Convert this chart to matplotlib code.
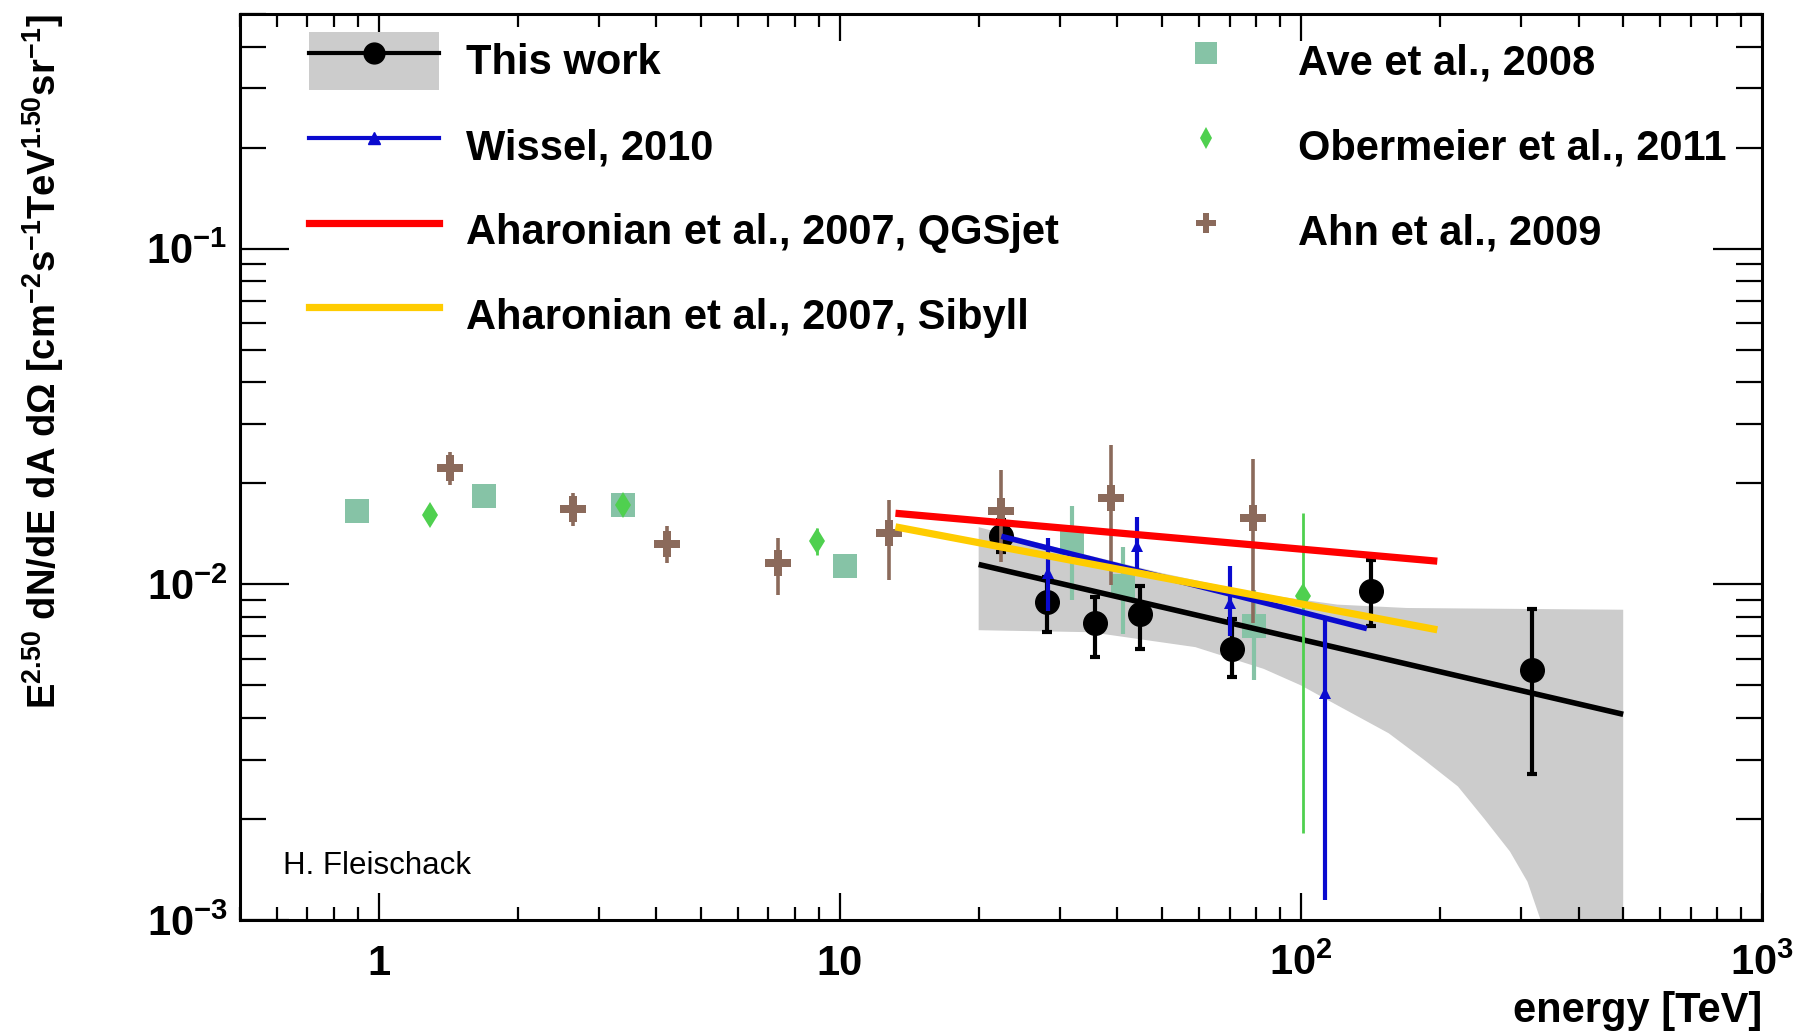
import numpy as np
import matplotlib
matplotlib.use('Agg')
import matplotlib.pyplot as plt
from matplotlib.lines import Line2D
from matplotlib.patches import Patch
from matplotlib.legend_handler import HandlerTuple
from matplotlib.ticker import FixedLocator, FixedFormatter, LogLocator, NullFormatter

plt.rcParams['font.family'] = ['Liberation Sans', 'DejaVu Sans']
plt.rcParams['font.weight'] = 'bold'
plt.rcParams['mathtext.default'] = 'regular'

# === This work (points, fit, band) ===
tw_e = [22.4, 28.2, 35.8, 44.8, 70.7, 141.9, 317.6]
tw_flux = [0.0139, 0.00883, 0.00767, 0.00817, 0.00641, 0.00956, 0.00556]
tw_up = [0.0155, 0.0105, 0.00918, 0.00986, 0.00786, 0.0118, 0.00843]
tw_lo = [0.0125, 0.00721, 0.00607, 0.00641, 0.00531, 0.0075, 0.00273]

fit_e = [20, 500]
fit_flux = [0.01146, 0.0041]

band_up_e = [20, 30, 50, 80, 120, 170, 500]
band_up = [0.0148, 0.0128, 0.0108, 0.0094, 0.0087, 0.0085, 0.0084]
band_lo_e = [20, 35, 59, 83, 100, 115, 155, 185, 219, 250, 284, 310, 331, 360, 500]
band_lo = [0.0073, 0.0072, 0.0065, 0.0056, 0.0050, 0.0045, 0.0036, 0.0030, 0.0025,
           0.0020, 0.0016, 0.0013, 0.0010, 0.0006, 0.0006]

# === Wissel 2010 ===
wis_e = [28.3, 44.0, 70.1, 112.7]
wis_flux = [0.0108, 0.0130, 0.0088, 0.00474]
wis_up = [0.01374, 0.0159, 0.0113, 0.00804]
wis_lo = [0.0083, 0.01104, 0.0070, 0.00115]
wis_fit_e = [22.4, 139]
wis_fit_flux = [0.0139, 0.00738]

# === Aharonian 2007 ===
aha_e = [13.2, 197.6]
aha_qgs = [0.01628, 0.01172]
aha_sib = [0.01483, 0.00732]

# === Ave 2008 ===
ave_e = [0.899, 1.688, 3.38, 10.26, 31.8, 41.1, 79.2]
ave_flux = [0.01648, 0.01828, 0.01726, 0.01135, 0.01328, 0.00986, 0.0075]
ave_up = [0.01648, 0.01828, 0.01726, 0.01135, 0.01706, 0.01288, 0.00964]
ave_lo = [0.01648, 0.01828, 0.01726, 0.01135, 0.00898, 0.0071, 0.00519]

# === Obermeier 2011 ===
obe_e = [1.29, 3.38, 8.93, 101]
obe_flux = [0.0161, 0.01726, 0.01343, 0.0092]
obe_up = [0.0161, 0.01726, 0.01471, 0.0163]
obe_lo = [0.0161, 0.01726, 0.0122, 0.00182]

# === Ahn 2009 ===
ahn_e = [1.426, 2.644, 4.21, 7.35, 12.76, 22.4, 38.8, 78.8]
ahn_flux = [0.02218, 0.01675, 0.01321, 0.01157, 0.01425, 0.01648, 0.01803, 0.01578]
ahn_up = [0.02486, 0.01876, 0.01487, 0.01372, 0.01789, 0.02193, 0.02606, 0.0237]
ahn_lo = [0.0198, 0.01487, 0.01157, 0.00931, 0.01033, 0.01162, 0.00994, 0.00767]

c_band = '#cccccc'
c_blue = '#0a0acf'
c_red = '#ff0000'
c_yel = '#ffcc00'
c_ave = '#86c3a6'
c_obe = '#4fd04f'
c_ahn = '#8b6a5b'


def yerr(flux, lo, up):
    flux = np.array(flux)
    return [flux - np.array(lo), np.array(up) - flux]


fig = plt.figure(figsize=(17.93, 10.33), dpi=100)
ax = fig.add_axes([240 / 1793, 1 - 920 / 1033, 1522 / 1793, 906 / 1033])
ax.set_xscale('log')
ax.set_yscale('log')

# band + fit
ax.fill(band_up_e + band_lo_e[::-1], band_up + band_lo[::-1], color=c_band, lw=0, zorder=1)
ax.plot(fit_e, fit_flux, color='black', lw=4, zorder=3, solid_capstyle='butt')

ax.errorbar(ave_e, ave_flux, yerr=yerr(ave_flux, ave_lo, ave_up), fmt='s', ms=17, mew=0,
            color=c_ave, elinewidth=3, capsize=3, capthick=2.5, zorder=2.5)
ax.errorbar(tw_e, tw_flux, yerr=yerr(tw_flux, tw_lo, tw_up), fmt='o', ms=17, color='black',
            elinewidth=3, capsize=3.5, capthick=3, zorder=3)
ax.errorbar(ahn_e, ahn_flux, yerr=yerr(ahn_flux, ahn_lo, ahn_up), fmt='P', ms=19, mew=0,
            color=c_ahn, elinewidth=2.6, capsize=3.5, capthick=2.6, zorder=4)
ax.errorbar(obe_e, obe_flux, yerr=yerr(obe_flux, obe_lo, obe_up), fmt='d', ms=13, mew=0,
            color=c_obe, elinewidth=2, capsize=3, capthick=2, zorder=4)
ax.errorbar(wis_e, wis_flux, yerr=yerr(wis_flux, wis_lo, wis_up), fmt='^', ms=9, mew=0,
            color=c_blue, elinewidth=3, capsize=3, capthick=3, zorder=4.2)
ax.plot(wis_fit_e, wis_fit_flux, color=c_blue, lw=4, zorder=4.3, solid_capstyle='butt')
ax.plot(aha_e, aha_qgs, color=c_red, lw=5.2, zorder=5, solid_capstyle='butt')
ax.plot(aha_e, aha_sib, color=c_yel, lw=5.2, zorder=5, solid_capstyle='butt')

ax.set_xlim(0.5, 1000)
ax.set_ylim(1e-3, 0.5)

ax.xaxis.set_major_locator(FixedLocator([1, 10, 100, 1000]))
ax.xaxis.set_major_formatter(FixedFormatter(['1', '10', '$10^{2}$', '$10^{3}$']))
ax.xaxis.set_minor_locator(LogLocator(base=10, subs=np.arange(2, 10), numticks=50))
ax.xaxis.set_minor_formatter(NullFormatter())
ax.yaxis.set_major_locator(FixedLocator([1e-3, 1e-2, 1e-1]))
ax.yaxis.set_major_formatter(FixedFormatter(['$10^{-3}$', '$10^{-2}$', '$10^{-1}$']))
ax.yaxis.set_minor_locator(LogLocator(base=10, subs=np.arange(2, 10), numticks=50))
ax.yaxis.set_minor_formatter(NullFormatter())

for sp in ax.spines.values():
    sp.set_linewidth(2.2)
ax.tick_params(which='both', direction='in', top=True, right=True, width=1.6, labelsize=30)
ax.tick_params(axis='x', which='major', length=19.5, pad=39.5)
ax.tick_params(axis='x', which='minor', length=9.5)
ax.tick_params(axis='y', which='major', length=35, pad=9)
ax.tick_params(axis='y', which='minor', length=19)
for lab in ax.get_xticklabels():
    lab.set_va('baseline')

fig.text(20 / 1793, 1 - 14 / 1033,
         r'E$^{2.50}$ dN/dE dA d$\Omega$ [cm$^{-2}$s$^{-1}$TeV$^{1.50}$sr$^{-1}$]',
         rotation=90, ha='left', va='top', fontsize=27.5)
fig.text(1762 / 1793, 1 - 1022 / 1033, 'energy [TeV]', ha='right', va='baseline', fontsize=30)
fig.text(283 / 1793, 1 - 874 / 1033, 'H. Fleischack', ha='left', va='baseline',
         fontsize=22.5, fontweight='normal')

# === Legends ===
h_this = (Patch(facecolor=c_band, edgecolor='none'),
          Line2D([], [], color='black', lw=3, marker='o', ms=15))
h_wis = Line2D([], [], color=c_blue, lw=3, marker='^', ms=8)
h_qgs = Line2D([], [], color=c_red, lw=5.2)
h_sib = Line2D([], [], color=c_yel, lw=5.2)
leg_kw = dict(frameon=False, loc='upper left', borderpad=0, borderaxespad=0,
              handlelength=3.12, handleheight=1.8, handletextpad=0.66,
              labelspacing=0.62, numpoints=1, fontsize=30)
fig.legend([h_this, h_wis, h_qgs, h_sib],
           ['This work', 'Wissel, 2010', 'Aharonian et al., 2007, QGSjet',
            'Aharonian et al., 2007, Sibyll'],
           bbox_to_anchor=(309 / 1793, 1 - 31.5 / 1033),
           handler_map={tuple: HandlerTuple(ndivide=1)}, **leg_kw)

h_ave = Line2D([], [], ls='none', marker='s', ms=16, mew=0, color=c_ave)
h_obe = Line2D([], [], ls='none', marker='d', ms=11, mew=0, color=c_obe)
h_ahn = Line2D([], [], ls='none', marker='P', ms=15, mew=0, color=c_ahn)
fig.legend([h_ave, h_obe, h_ahn],
           ['Ave et al., 2008', 'Obermeier et al., 2011', 'Ahn et al., 2009'],
           bbox_to_anchor=(1141 / 1793, 1 - 31.5 / 1033), **leg_kw)

fig.savefig('out.png', dpi=100)
